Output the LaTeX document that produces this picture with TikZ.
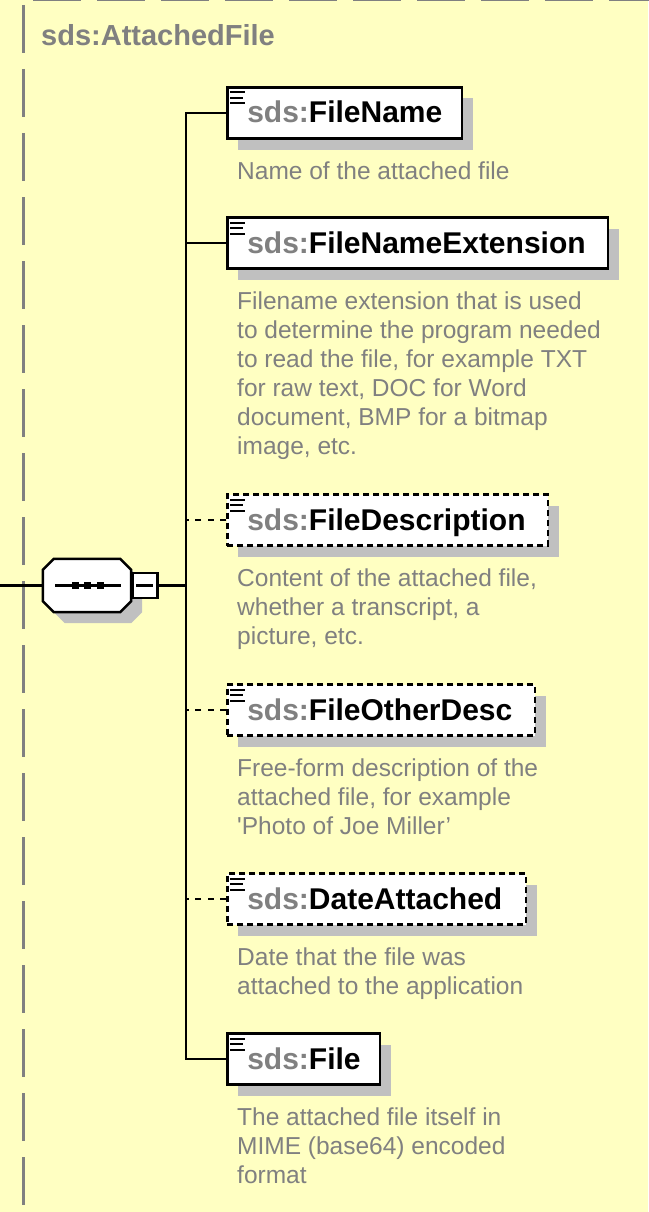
\documentclass[tikz,border=0pt]{standalone}
\usepackage{fontspec}
\setmainfont{Liberation Sans}
\newfontfamily\plainsans{Liberation Sans}
\usetikzlibrary{positioning,shadows,calc}
\definecolor{groundyellow}{HTML}{FFFFC2}
\definecolor{labelgray}{HTML}{808080}
\definecolor{shadegray}{HTML}{C0C0C0}
\newcommand{\sds}[1]{{\color{labelgray}sds:}#1}
\tikzset{
  elem/.style={draw, fill=white, line width=2.5pt, text width=#1pt, align=left,
    inner xsep=20pt, inner ysep=0pt, minimum height=51pt, text height=22pt, text depth=2pt,
    anchor=west, font=\fontsize{30}{36}\selectfont\bfseries,
    drop shadow={opacity=1, fill=shadegray, shadow xshift=11pt, shadow yshift=-11pt},
    path picture={\draw[solid, line width=2pt]
      ([xshift=3pt,yshift=-5pt]path picture bounding box.north west) -- ++(15pt,0pt)
      ++(-15pt,-5.5pt) -- ++(13pt,0pt) ++(-13pt,-5.5pt) -- ++(15pt,0pt);}},
  optelem/.style={elem=#1, dash pattern=on 6pt off 4pt},
  desc/.style={text=labelgray, align=left, inner sep=0pt, font=\plainsans\fontsize{24.5}{29}\selectfont},
  seqbox/.style={minimum width=88pt, minimum height=53pt, inner sep=0pt},
  togglebox/.style={draw, fill=white, line width=2.5pt, minimum size=25pt, inner sep=0pt,
    path picture={\draw[line width=2.5pt] ([xshift=4pt]path picture bounding box.west)
      -- ([xshift=-4pt]path picture bounding box.east);}},
  link/.style={line width=2.5pt},
  optlink/.style={link, dash pattern=on 6pt off 6.5pt},
  groupline/.style={labelgray, line width=3pt, dash pattern=on 48pt off 16pt}
}
% chamfered outline of the compositor node, moved by #2
\newcommand{\octpath}[2]{($(#1.north west)+(11,0)+(#2)$) -- ($(#1.north east)+(-11,0)+(#2)$)
  -- ($(#1.north east)+(0,11)+(#2)$) -- ($(#1.south east)+(0,-11)+(#2)$)
  -- ($(#1.south east)+(-11,0)+(#2)$) -- ($(#1.south west)+(11,0)+(#2)$)
  -- ($(#1.south west)+(0,-11)+(#2)$) -- ($(#1.north west)+(0,11)+(#2)$) -- cycle}
\begin{document}
\begin{tikzpicture}[x=1pt, y=-1pt]
  \useasboundingbox (0,0) rectangle (648,1212);
  \fill[groundyellow] (0,0) rectangle (648,1212);

  % group frame
  \draw[groupline] (33,-0.5) -- (680,-0.5);
  \draw[groupline] (23,5) -- (23,1260);
  \node[anchor=base west, inner sep=0pt, text=labelgray, font=\fontsize{29}{34}\selectfont\bfseries]
    (title) at (41,46) {sds:AttachedFile};

  % sequence compositor
  \node[seqbox] (seq) at (87,585.5) {};
  \fill[shadegray] \octpath{seq}{11,11};
  \filldraw[fill=white, line width=2.5pt, line join=miter] \octpath{seq}{0,0};
  \node[togglebox, right=0pt of seq] (seqtoggle) {};
  \draw[link] ([xshift=-32pt]seq.center) -- ([xshift=34pt]seq.center);
  \fill ([xshift=-12pt]seq.center) +(-3.5pt,-3.5pt) rectangle +(3.5pt,3.5pt);
  \fill (seq.center) +(-3.5pt,-3.5pt) rectangle +(3.5pt,3.5pt);
  \fill ([xshift=13pt]seq.center) +(-3.5pt,-3.5pt) rectangle +(3.5pt,3.5pt);

  % elements
  \node[elem=194.5] (fname) at (226,113) {\sds{FileName}};
  \node[elem=340.5] (fext) at (226,243) {\sds{FileNameExtension}};
  \node[optelem=280.5] (fdesc) at (226,520) {\sds{FileDescription}};
  \node[optelem=267.5] (fother) at (226,710) {\sds{FileOtherDesc}};
  \node[optelem=258.5] (fdate) at (226,899) {\sds{DateAttached}};
  \node[elem=112.5] (file) at (226,1059) {\sds{File}};

  % annotations
  \node[desc, below right=22pt and 11pt of fname.south west] (fnametext) {Name of the attached file};
  \node[desc, below right=22pt and 11pt of fext.south west] (fexttext)
    {Filename extension that is used\\to determine the program needed\\to read the file, for example TXT\\for raw text, DOC for Word\\document, BMP for a bitmap\\image, etc.};
  \node[desc, below right=22pt and 11pt of fdesc.south west] (fdesctext)
    {Content of the attached file,\\whether a transcript, a\\picture, etc.};
  \node[desc, below right=22pt and 11pt of fother.south west] (fothertext)
    {Free-form description of the\\attached file, for example\\'Photo of Joe Miller’};
  \node[desc, below right=22pt and 11pt of fdate.south west] (fdatetext)
    {Date that the file was\\attached to the application};
  \node[desc, below right=22pt and 11pt of file.south west] (filetext)
    {The attached file itself in\\MIME (base64) encoded\\format};

  % connectors
  \coordinate (inlet) at (0,585.5);
  \coordinate (trunk) at (186,585.5);
  \draw[link] (inlet) -- (seq.west);
  \draw[link] (seqtoggle.east) -- (trunk);
  \draw[link] (fname.west) -- (fname.west -| trunk) -- (file.west -| trunk) -- (file.west);
  \draw[link] (fext.west) -- (fext.west -| trunk);
  \draw[optlink] (fdesc.west) -- (fdesc.west -| trunk);
  \draw[optlink] (fother.west) -- (fother.west -| trunk);
  \draw[optlink] (fdate.west) -- (fdate.west -| trunk);
\end{tikzpicture}
\end{document}
